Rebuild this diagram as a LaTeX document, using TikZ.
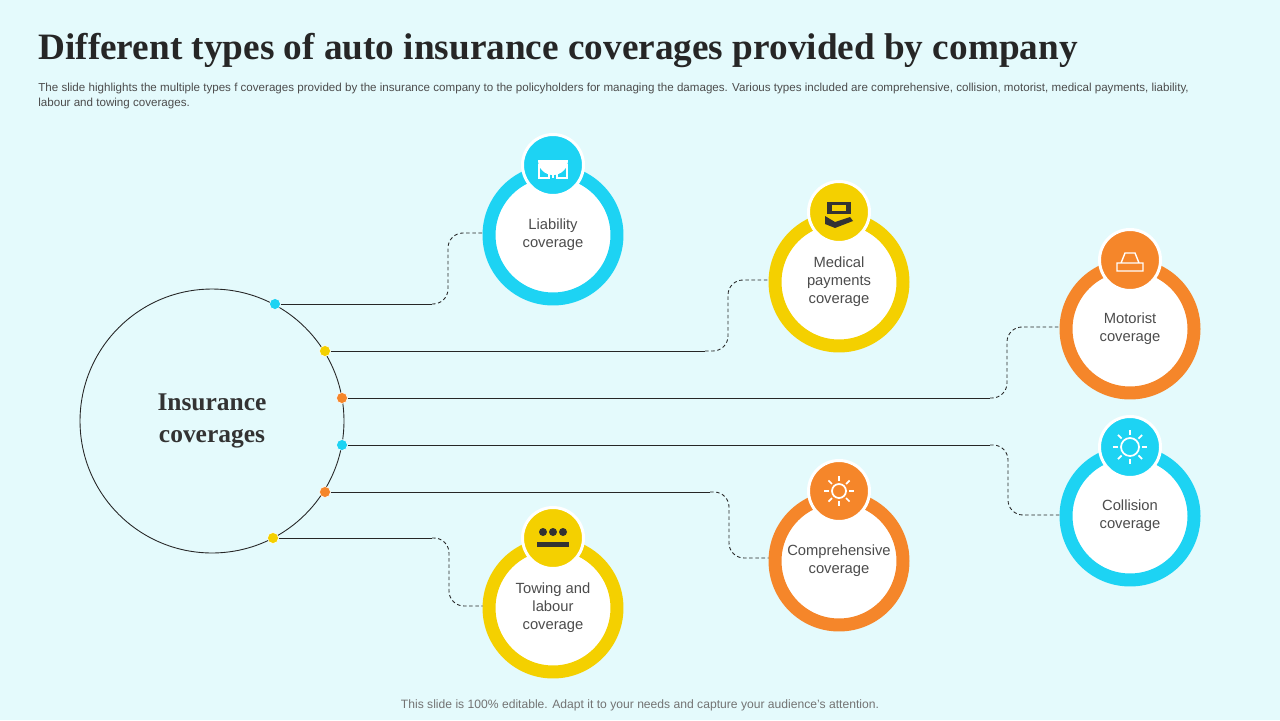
\documentclass[tikz,border=0pt]{standalone}
\usepackage{fontspec}
\setmainfont{Liberation Sans}
\newfontfamily\titlefont{Liberation Serif}
\begin{document}
\begin{tikzpicture}[x=0.02cm,y=-0.02cm,
  ring/.style={circle,draw=#1,line width=0.26cm,fill=white,minimum size=2.56cm,inner sep=0pt,align=center,font=\fontsize{8.4}{10.2}\selectfont,text=black!70},
  icon/.style={circle,draw=white,line width=0.06cm,fill=#1,minimum size=1.22cm,inner sep=0pt},
  dot/.style={circle,fill=#1,draw=white,line width=0.3pt,minimum size=0.22cm,inner sep=0pt},
  link/.style={draw=black!85,line width=0.5pt},
  dlink/.style={draw=black!85,line width=0.5pt,dashed,dash pattern=on 2pt off 1.5pt,rounded corners=0.3cm}]
\definecolor{bg}{HTML}{E4FAFC}
\definecolor{cyn}{HTML}{1DD3F3}
\definecolor{ylw}{HTML}{F4D000}
\definecolor{org}{HTML}{F5862A}
\fill[bg] (0,0) rectangle (1280,720);
\useasboundingbox (0,0) rectangle (1280,720);
\node[anchor=west,font=\titlefont\bfseries\fontsize{21.2}{26}\selectfont,text=black!85,inner sep=0pt] (title) at (38,50) {Different types of auto insurance coverages provided by company};
\node[anchor=north west,align=left,font=\fontsize{6.6}{8.3}\selectfont,text=black!70,inner sep=0pt] (sub) at (38,83) {The slide highlights the multiple types f coverages provided by the insurance company to the policyholders for managing the damages. Various types included are comprehensive, collision, motorist, medical payments, liability,\\labour and towing coverages.};
\node[font=\fontsize{6.9}{9}\selectfont,text=black!55] (foot) at (640,705) {This slide is 100\% editable. Adapt it to your needs and capture your audience's attention.};
% main circle
\node[circle,draw=black!85,line width=0.5pt,minimum size=5.28cm,inner sep=0pt,align=center,font=\titlefont\bfseries\fontsize{14.5}{18.2}\selectfont,text=black!80] (main) at (212,421) {Insurance\\coverages};
% rings
\node[ring=cyn] (lia) at (553,235) {Liability\\coverage};
\node[ring=ylw] (med) at (839,282) {Medical\\payments\\coverage};
\node[ring=org] (mot) at (1130,329) {Motorist\\coverage};
\node[ring=cyn] (col) at (1130,516) {Collision\\coverage};
\node[ring=org] (com) at (839,561) {Comprehensive\\coverage};
\node[ring=ylw] (tow) at (553,608) {Towing and\\labour\\coverage};
% icons
\node[icon=cyn] (i1) at (553,165) {};
\node[icon=ylw] (i2) at (839,212) {};
\node[icon=org] (i3) at (1130,260) {};
\node[icon=cyn] (i4) at (1130,447) {};
\node[icon=org] (i5) at (839,491) {};
\node[icon=ylw] (i6) at (553,538) {};
% icon glyphs (simplified)
\fill[white] (538,160) arc (180:0:15) -- cycle;
\draw[white,line width=1pt] (553,160) -- (553,178);
\draw[white,line width=0.8pt] (539,165) rectangle (549,178) (557,165) rectangle (567,178);
\fill[black!80] (827,202) rectangle (851,214);
\fill[ylw] (832,205) rectangle (846,211);
\fill[black!80] (825,216) -- (835,222) -- (850,217) -- (853,221) -- (835,228) -- (825,224) -- cycle;
\draw[white,line width=0.8pt] (1117,263) rectangle (1143,271) (1121,263) -- (1125,253) -- (1135,253) -- (1139,263);
\draw[white,line width=1pt] (1130,447) circle (9);
\foreach \a in {0,45,...,315} \draw[white,line width=1pt] (1130,447) ++(\a:12) -- ++(\a:5);
\draw[white,line width=1pt] (839,491) circle (7);
\foreach \a in {0,45,...,315} \draw[white,line width=1pt] (839,491) ++(\a:10) -- ++(\a:5);
\fill[black!80] (537,542) rectangle (569,547);
\foreach \x in {543,553,563} \fill[black!80] (\x,532) circle (4);
% dots
\node[dot=cyn] (d1) at (275,304) {};
\node[dot=ylw] (d2) at (325,351) {};
\node[dot=org] (d3) at (342,398) {};
\node[dot=cyn] (d4) at (342,445) {};
\node[dot=org] (d5) at (325,492) {};
\node[dot=ylw] (d6) at (273,538) {};
% connectors
\coordinate (e1) at (432,304); \coordinate (e2) at (705,351); \coordinate (e3) at (990,398);
\coordinate (e4) at (990,445); \coordinate (e5) at (710,492); \coordinate (e6) at (432,538);
\draw[link] (d1) -- (e1); \draw[dlink] (e1) -- (448,304) -- (448,233) -- (lia.west |- 0,233);
\draw[link] (d2) -- (e2); \draw[dlink] (e2) -- (728,351) -- (728,280) -- (med.west |- 0,280);
\draw[link] (d3) -- (e3); \draw[dlink] (e3) -- (1007,398) -- (1007,327) -- (mot.west |- 0,327);
\draw[link] (d4) -- (e4); \draw[dlink] (e4) -- (1008,445) -- (1008,515) -- (col.west |- 0,515);
\draw[link] (d5) -- (e5); \draw[dlink] (e5) -- (729,492) -- (729,558) -- (com.west |- 0,558);
\draw[link] (d6) -- (e6); \draw[dlink] (e6) -- (449,538) -- (449,606) -- (tow.west |- 0,606);
\end{tikzpicture}
\end{document}
